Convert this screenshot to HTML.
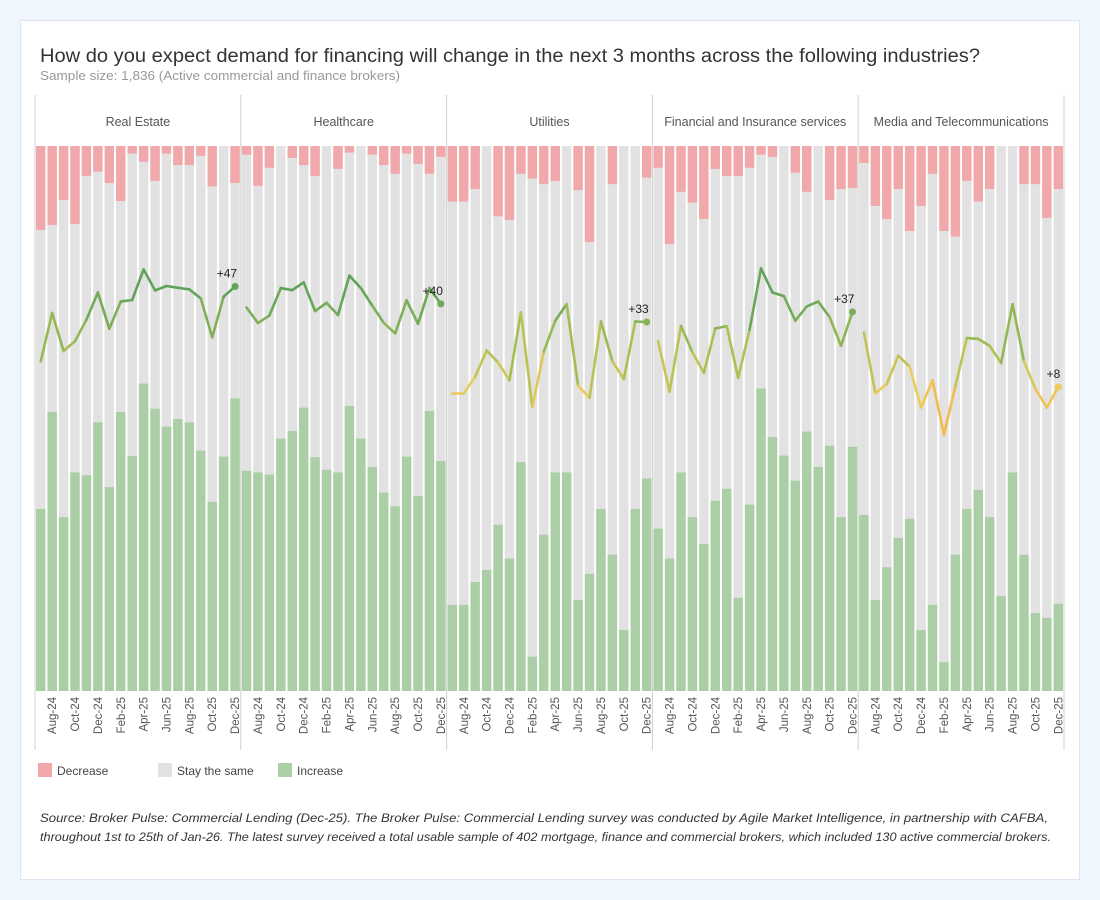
<!DOCTYPE html>
<html><head><meta charset="utf-8"><style>
body{margin:0;background:#f0f6fd;font-family:"Liberation Sans",sans-serif;}
#card{position:absolute;left:20px;top:20px;width:1058px;height:858px;background:#fff;border:1px solid #dde6f0;}
</style></head><body>
<div id="card"></div>
<svg id="chart" width="1100" height="900" style="position:absolute;left:0;top:0">
<text x="40" y="62" font-size="19" fill="#333" textLength="940" lengthAdjust="spacingAndGlyphs">How do you expect demand for financing will change in the next 3 months across the following industries?</text>
<text x="40" y="80" font-size="12.5" fill="#999" textLength="360" lengthAdjust="spacingAndGlyphs">Sample size: 1,836 (Active commercial and finance brokers)</text>
<g id="plot"></g>
<g>
<rect x="38" y="763" width="14" height="14" fill="#f0a8ab"/>
<text x="57" y="775" font-size="12" fill="#444">Decrease</text>
<rect x="158" y="763" width="14" height="14" fill="#e2e2e2"/>
<text x="177" y="775" font-size="12" fill="#444">Stay the same</text>
<rect x="278" y="763" width="14" height="14" fill="#abcea6"/>
<text x="297" y="775" font-size="12" fill="#444">Increase</text>
</g>
<g font-size="11.5" font-style="italic" fill="#333">
<text x="40" y="822" textLength="1008" lengthAdjust="spacingAndGlyphs">Source: Broker Pulse: Commercial Lending (Dec-25). The Broker Pulse: Commercial Lending survey was conducted by Agile Market Intelligence, in partnership with CAFBA,</text>
<text x="40" y="841" textLength="1011" lengthAdjust="spacingAndGlyphs">throughout 1st to 25th of Jan-26. The latest survey received a total usable sample of 402 mortgage, finance and commercial brokers, which included 130 active commercial brokers.</text>
</g>
</svg>
<script>
const industries=["Real Estate","Healthcare","Utilities","Financial and Insurance services","Media and Telecommunications"];
const months=["Jul-24","Aug-24","Sep-24","Oct-24","Nov-24","Dec-24","Jan-25","Feb-25","Mar-25","Apr-25","May-25","Jun-25","Jul-25","Aug-25","Sep-25","Oct-25","Nov-25","Dec-25"];
const decRE=[15.4,14.5,9.9,14.3,5.5,4.7,6.8,10.1,1.4,2.9,6.4,1.4,3.5,3.5,1.8,7.4,0,6.8];
const incRE=[33.4,51.2,31.9,40.1,39.6,49.3,37.4,51.2,43.1,56.4,51.8,48.5,49.9,49.3,44.1,34.7,43.0,53.7];
const decHC=[1.6,7.3,4.0,0,2.2,3.5,5.5,0,4.2,1.2,0,1.6,3.5,5.1,1.4,3.3,5.1,2.0];
const incHC=[40.4,40.1,39.7,46.3,47.7,52.0,42.9,40.6,40.1,52.3,46.3,41.1,36.4,33.9,43.0,35.8,51.4,42.2];
const decUT=[10.2,10.2,7.9,0,12.9,13.6,5.1,6.0,7.0,6.4,0,8.1,17.6,0,7.0,0,0,5.8];
const incUT=[15.8,15.8,20.0,22.2,30.5,24.3,42.0,6.3,28.7,40.1,40.1,16.7,21.5,33.4,25.0,11.2,33.4,39.0];
const decFI=[4.0,18.0,8.4,10.4,13.4,4.2,5.5,5.5,4.0,1.6,2.0,0,4.9,8.4,0,9.9,7.9,7.7];
const incFI=[29.8,24.3,40.1,31.9,27.0,34.9,37.1,17.1,34.2,55.5,46.6,43.2,38.6,47.6,41.1,45.0,31.9,44.8];
const decME=[3.1,11.0,13.4,7.9,15.6,11.0,5.1,15.6,16.6,6.4,10.2,7.9,0,0,7.0,7.0,13.2,7.9];
const incME=[32.3,16.7,22.7,28.1,31.6,11.2,15.8,5.3,25.0,33.4,36.9,31.9,17.4,40.1,25.0,14.3,13.4,16.0];
const decs=[decRE,decHC,decUT,decFI,decME];
const incs=[incRE,incHC,incUT,incFI,incME];

const NS="http://www.w3.org/2000/svg";
const plot=document.getElementById("plot");
const X0=35,PW=205.8,TOP=146,BOT=691;
const yPct=p=>TOP+p/100*(BOT-TOP);
const yNet=v=>408-2.59*v;
function mk(tag,attrs,parent){const e=document.createElementNS(NS,tag);for(const k in attrs)e.setAttribute(k,attrs[k]);(parent||plot).appendChild(e);return e;}
const stops=[[-12,[244,168,58]],[8,[236,204,90]],[22,[170,192,82]],[45,[95,163,90]]];
function col(v){if(v<=stops[0][0])return "rgb("+stops[0][1]+")";for(let i=1;i<stops.length;i++){if(v<=stops[i][0]){const a=stops[i-1],b=stops[i],t=(v-a[0])/(b[0]-a[0]);return "rgb("+a[1].map((c,j)=>Math.round(c+(b[1][j]-c)*t)).join(",")+")";}}return "rgb("+stops[stops.length-1][1]+")";}

for(let p=0;p<=industries.length;p++){
  const ln=mk("line",{x1:X0+p*PW,x2:X0+p*PW,y1:95,y2:750,stroke:"#cfcfcf","stroke-width":1});
  
  
}
industries.forEach((name,p)=>{
  const px=X0+p*PW;
  const g=mk("g",{});
  
  
  const h=mk("text",{x:px+PW/2,y:126,"text-anchor":"middle","font-size":12.5,fill:"#555"},g);
  h.textContent=name;
  
  
  const n=months.length,slot=PW/n,bw=slot-2;
  const dec=decs[p],inc=incs[p],net=[];
  months.forEach((m,i)=>{
    const bx=px+1+i*slot;
    const s=mk("rect",{x:bx,y:TOP,width:bw,height:BOT-TOP,fill:"#e2e2e2"},g);
    
    
    const d=mk("rect",{x:bx,y:TOP,width:bw,height:yPct(dec[i])-TOP,fill:"#f0a8ab"},g);
    
    
    const u=mk("rect",{x:bx,y:yPct(100-inc[i]),width:bw,height:BOT-yPct(100-inc[i]),fill:"#abcea6"},g);
    
    
    net.push(inc[i]-dec[i]);
    if(i%2===1){
      const cx=bx+bw/2+4;
      const t=mk("text",{x:cx,y:697,transform:`rotate(-90 ${cx} 697)`,"text-anchor":"end","font-size":11.5,fill:"#555"},g);
      t.textContent=m;
      
      
    }
  });
  for(let i=0;i<n-1;i++){
    const x1=px+1+i*slot+bw/2,x2=px+1+(i+1)*slot+bw/2;
    const seg=mk("line",{x1:x1,y1:yNet(net[i]),x2:x2,y2:yNet(net[i+1]),stroke:col((net[i]+net[i+1])/2),"stroke-width":2.6,"stroke-linecap":"round"},g);
    
    
  }
  const lx=px+1+(n-1)*slot+bw/2,lv=net[n-1];
  const dot=mk("circle",{cx:lx,cy:yNet(lv),r:3.5,fill:col(lv)},g);
  
  
  const lab=mk("text",{x:lx+2,y:yNet(lv)-9,"text-anchor":"end","font-size":12,fill:"#222"},g);
  lab.textContent="+"+Math.round(lv);
  
  
});
</script>
</body></html>
